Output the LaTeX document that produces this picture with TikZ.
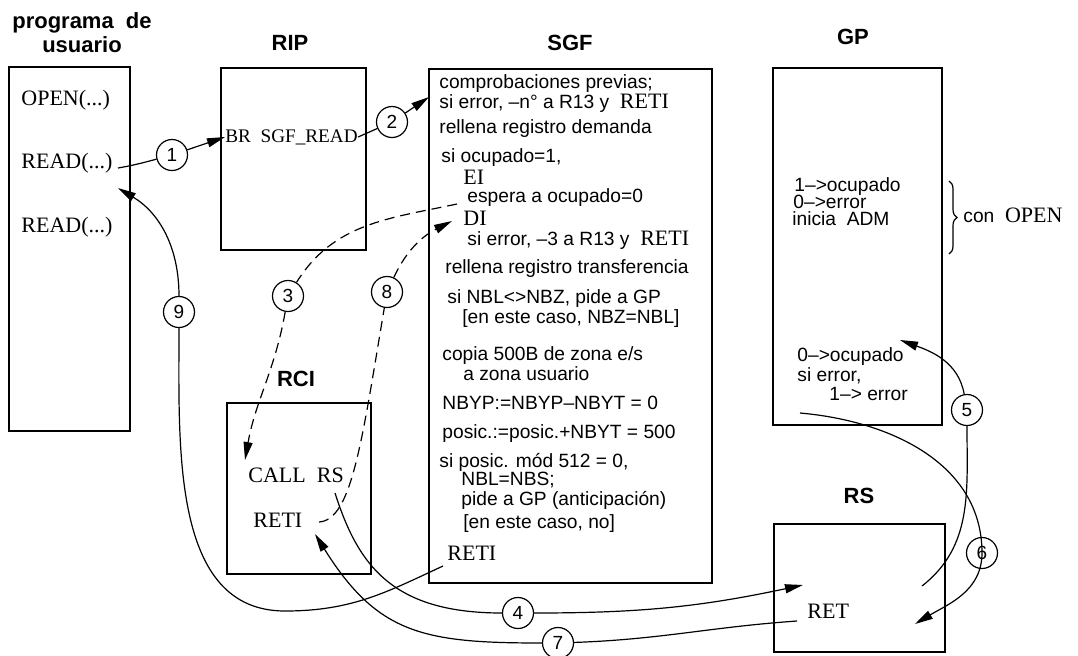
\documentclass[tikz,border=0pt]{standalone}
\usepackage{fontspec}
\setmainfont{Liberation Serif}
\setsansfont{Liberation Sans}
\usetikzlibrary{arrows.meta,decorations.pathreplacing}
\newcommand{\srf}[1]{{\rmfamily\fontsize{11}{12}\selectfont #1}}

\begin{document}
\begin{tikzpicture}[x=0.5pt, y=0.5pt, >={Triangle[length=9pt,width=4.5pt]},
  box/.style={draw, line width=0.9pt, inner sep=0pt},
  title/.style={font=\sffamily\bfseries\fontsize{11}{12}\selectfont, align=center},
  txt/.style={font=\sffamily\fontsize{9.6}{10}\selectfont, anchor=west, inner sep=0pt, text height=1.5ex, text depth=.25ex},
  code/.style={font=\rmfamily\fontsize{11}{12}\selectfont, anchor=west, inner sep=0pt, text height=1.5ex, text depth=.25ex},
  num/.style={circle, draw, line width=0.6pt, minimum size=15.5pt, inner sep=0pt, font=\sffamily\fontsize{9.5}{10}\selectfont},
  wire/.style={line width=0.6pt},
  link/.style={wire, ->},
  dwire/.style={wire, dash pattern=on 5pt off 3pt},
  dlink/.style={dwire, ->}
]
\useasboundingbox (0,0) rectangle (1078,-655);

% cajas
\node[box, minimum width=60.5pt, minimum height=182pt] (usr) at (69.5,-249) {};
\node[box, minimum width=72.5pt, minimum height=91pt] (rip) at (293.5,-159) {};
\node[box, minimum width=141.5pt, minimum height=257pt] (sgf) at (570.5,-326) {};
\node[box, minimum width=84.5pt, minimum height=178.5pt] (gp) at (857.5,-246.5) {};
\node[box, minimum width=72pt, minimum height=85.5pt] (rci) at (299,-488.5) {};
\node[box, minimum width=85.5pt, minimum height=64pt] (rs) at (859.5,-588) {};

\node[title] (tusr) at (82,-33) {programa\ \ de\\usuario};
\node[title] (trip) at (290,-43) {RIP};
\node[title] (tsgf) at (570,-43) {SGF};
\node[title] (tgp) at (853,-37) {GP};
\node[title] (trci) at (296,-379) {RCI};
\node[title] (trs) at (859,-496) {RS};

% programa de usuario, RIP, RCI, RS
\node[code] (u1) at (21,-100) {OPEN(...)};
\node[code] (u2) at (21,-163) {READ(...)};
\node[code] (u3) at (21,-227) {READ(...)};
\node[code, font=\rmfamily\fontsize{9.6}{10}\selectfont] (br) at (225,-137) {BR\ \ SGF\_READ};
\node[code] (call) at (248,-477) {CALL\ \ RS};
\node[code] (reti) at (253,-522) {RETI};
\node[code] (ret) at (807,-613) {RET};

% SGF
\foreach \x/\y/\t [count=\i] in {
  439/83/{comprobaciones previas;},
  439/103/{si error, --n° a R13 y\ \ \srf{RETI}},
  439/128/{rellena registro demanda},
  441/157/{si ocupado=1,},
  463/179/{\srf{EI}},
  467/197/{espera a ocupado=0},
  463/220/{\srf{DI}},
  467/240/{si error, --3 a R13 y\ \ \srf{RETI}},
  445/268/{rellena registro transferencia},
  447/298/{si NBL<>NBZ, pide a GP},
  462/318/{[en este caso, NBZ=NBL]},
  442/355/{copia 500B de zona e/s},
  463/375/{a zona usuario},
  442/404/{NBYP:=NBYP--NBYT = 0},
  442/433/{posic.:=posic.+NBYT = 500},
  439/462/{si posic. mód 512 = 0,},
  461/480/{NBL=NBS;},
  461/500/{pide a GP (anticipación)},
  463/523/{[en este caso, no]},
  447/555/{\srf{RETI}}}
  \node[txt] (s\i) at (\x,-\y) {\t};

% GP
\node[txt] (g1) at (794,-186) {1--{>}ocupado};
\node[txt] (g2) at (793,-203) {0--{>}error};
\node[txt] (g3) at (792,-220) {inicia\ \ ADM};
\node[txt] (g4) at (797,-356) {0--{>}ocupado};
\node[txt] (g5) at (797,-376) {si error,};
\node[txt] (g6) at (829,-395) {1--{>} error};
\draw[line width=0.6pt, decorate, decoration={brace, amplitude=4pt}] (949,-181) -- (949,-254);
\node[txt] (open) at (963,-217) {con\ \ \srf{OPEN}};

% numeros
\node[num] (c1) at (172,-155) {1};
\node[num] (c2) at (392,-122) {2};
\node[num] (c3) at (288,-296) {3};
\node[num] (c4) at (518,-613) {4};
\node[num] (c5) at (967,-410) {5};
\node[num] (c6) at (982,-553) {6};
\node[num] (c7) at (558,-643) {7};
\node[num] (c8) at (387,-292) {8};
\node[num] (c9) at (179,-312) {9};

\coordinate (a1s) at (118,-168);
\coordinate (a2e) at (429,-97);
\coordinate (a3s) at (457,-204);
\coordinate (a3e) at (245,-460);
\coordinate (a4s) at (335,-493);
\coordinate (a4e) at (803,-585);
\coordinate (a5s) at (922,-586);
\coordinate (a5e) at (900,-340);
\coordinate (a6s) at (800,-413);
\coordinate (a6e) at (915,-624);
\coordinate (a7s) at (797,-621);
\coordinate (a7e) at (315,-534);
\coordinate (a8s) at (319,-522);
\coordinate (a8e) at (452,-221);
\coordinate (a9s) at (443,-566);
\coordinate (a9e) at (118,-188);

\draw[wire] (a1s) to[out=10,in=195] (c1);
\draw[link] (c1) -- (br.west);
\draw[wire] (br.east) -- (c2);
\draw[link] (c2) -- (a2e);
\draw[dwire] (a3s) to[out=192,in=58] (c3);
\draw[dlink] (c3) to[out=-100,in=80] (a3e);
\draw[wire] (a4s) .. controls (358,-565) and (392,-613) .. (c4);
\draw[link] (c4) to[out=0,in=192] (a4e);
\draw[wire] (a5s) to[out=38,in=-90] (c5);
\draw[link] (c5) to[out=100,in=-20] (a5e);
\draw[link] (a6s) to[out=-5,in=90] (c6.center) to[out=-90,in=31] (a6e);
\draw[wire] (a7s) to[out=184,in=2] (c7);
\draw[link] (c7) to[out=180,in=-58,looseness=1.2] (a7e);
\draw[dwire] (a8s) .. controls (352,-520) and (362,-440) .. (c8);
\draw[dlink] (c8) to[out=65,in=207] (a8e);
\draw[wire] (a9s) .. controls (387,-592) and (352,-611) .. (285,-611) .. controls (171,-611) and (179,-447) .. (c9);
\draw[link] (c9) to[out=90,in=-31] (a9e);
\end{tikzpicture}
\end{document}
